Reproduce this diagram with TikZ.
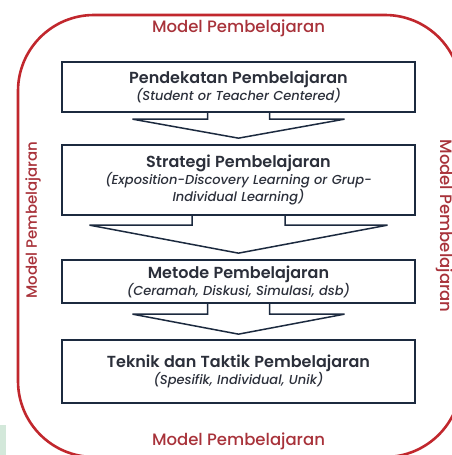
\documentclass[tikz,border=0pt]{standalone}
\usepackage{fontspec}
\setmainfont{Poppins Medium}
\newfontfamily\headfont{Poppins SemiBold}
\usetikzlibrary{calc}
\definecolor{modelred}{HTML}{C1272D}
\definecolor{labelred}{HTML}{A8323A}
\definecolor{boxnavy}{HTML}{1C2A3F}
\definecolor{textgray}{HTML}{2B2F3A}
\definecolor{edgegreen}{HTML}{D3E8DA}
\tikzset{
  stage/.style={draw=boxnavy, line width=2.3pt, minimum width=353pt, text width=345pt,
    align=center, inner sep=0pt, text=textgray, font=\fontsize{13}{17}\selectfont},
  flow/.style={draw=boxnavy, line width=1.5pt, fill=white, line join=miter},
  modellabel/.style={text=labelred, font=\fontsize{16.5}{18}\selectfont},
}
\newcommand{\stagehead}{\headfont\fontsize{16}{17}\selectfont}
\newcommand{\stagesub}{\itshape\fontsize{13}{17}\selectfont}
\newcommand{\stagearrow}[5]{%
  \draw[flow] ($(#1.south)+(-#2,0)$) -- ++(0,#4) -- ($(#1.south)+(-#3,#4)$)
    -- ($(#1.south)+(0,#4+#5)$) -- ($(#1.south)+(#3,#4)$) -- ($(#1.south)+(#2,#4)$)
    -- ($(#1.south)+(#2,0)$);}

\begin{document}
\begin{tikzpicture}[x=1pt,y=-1pt]
\useasboundingbox (0,0) rectangle (452,455);
\fill[edgegreen] (0,425) rectangle (6,455);
\draw[modelred, line width=2.6pt, rounded corners=76pt] (18,15) rectangle (461,457);

\node[modellabel] (top) at (238.5,28) {Model Pembelajaran};
\node[modellabel] (bottom) at (238.5,441) {Model Pembelajaran};
\node[modellabel, font=\fontsize{15}{17}\selectfont, rotate=90] (left) at (33,220) {Model Pembelajaran};
\node[modellabel, rotate=-90] (right) at (445,226) {Model Pembelajaran};

\node[stage, minimum height=50pt] (pendekatan) at (238.5,87)
  {{\stagehead Pendekatan Pembelajaran}\\
   {\stagesub (Student or Teacher Centered)}};
\node[stage, minimum height=70pt] (strategi) at (238.5,180)
  {{\stagehead Strategi Pembelajaran}\\
   {\stagesub (Exposition-Discovery Learning or Grup-\\Individual Learning)}};
\node[stage, minimum height=43pt] (metode) at (238.5,281.5)
  {{\stagehead Metode Pembelajaran}\\
   {\stagesub (Ceramah, Diskusi, Simulasi, dsb)}};
\node[stage, minimum height=63pt] (teknik) at (238.5,371.5)
  {{\stagehead Teknik dan Taktik Pembelajaran}\\
   {\stagesub (Spesifik, Individual, Unik)}};

\stagearrow{pendekatan}{31}{106}{6}{19}
\stagearrow{strategi}{46.5}{149}{9}{28}
\stagearrow{metode}{31}{106}{10}{20}
\end{tikzpicture}
\end{document}
